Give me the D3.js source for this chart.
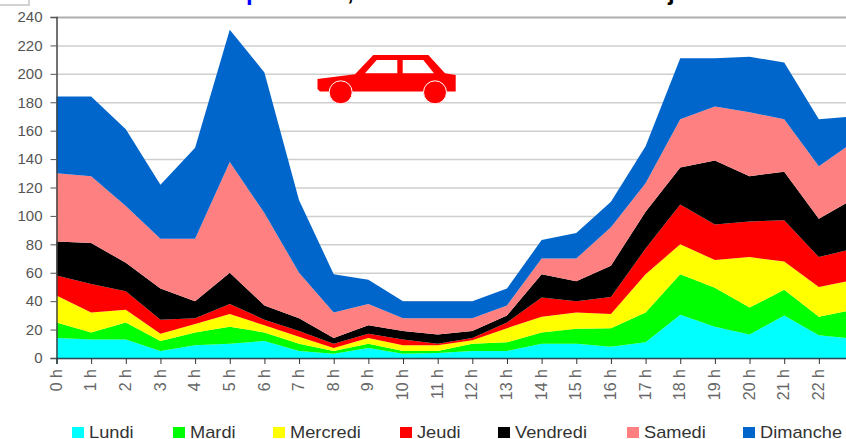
<!DOCTYPE html>
<html>
<head>
<meta charset="utf-8">
<script src="https://cdn.jsdelivr.net/npm/d3@7"></script>
<style>
  html, body { margin:0; padding:0; background:#fff; overflow:hidden; }
  text { font-family:"Liberation Sans", Arial, sans-serif; }
</style>
</head>
<body>
<div id="vis-container"></div>
<script>
//data
let hours = ["0 h","1 h","2 h","3 h","4 h","5 h","6 h","7 h","8 h","9 h","10 h","11 h","12 h","13 h","14 h","15 h","16 h","17 h","18 h","19 h","20 h","21 h","22 h","23 h"];
let yTicks = [0,20,40,60,80,100,120,140,160,180,200,220,240];
let days = ["Lundi","Mardi","Mercredi","Jeudi","Vendredi","Samedi","Dimanche"];
let dayColors = ["#00ffff","#00ff00","#ffff00","#ff0000","#000000","#ff8080","#0066cc"];

let lundi    = [14,13,13,5,9,10,12,5,3,7,3,3.5,5,5,10,10,8,11,30.5,22,16.5,30,16,13.5];
let mardi    = [11,5,12,7,9,12,6,5,2,3,2,1.5,5,6,8,10.5,13,21,28.5,27.5,19,18,13,20.5];
let mercredi = [19,14,9,5,6,9,5,5,2,4,4,4,2.5,10,11,11.5,10,27,21,19.5,35.5,20,21,21];
let jeudi    = [14,20,13,10,4,7,4,4,3,3,4,1,1.5,4,13.5,8,12,18,28,25,25,29,21,22];
let vendredi = [24,29,20,22,12,22,10,9,4,6,6,6.5,5,5,16.5,14,22,26,26,45,32,34,27,35];
let samedi   = [48,47,40,35,44,78,65,32,18,15,9,11.5,9,7,11,16,27,20,34,38,45,37,37,40];
let dimanche = [54,56,54,38,64,93,99,51,27,17,12,12,12,12,13,18,18,26,43,34,39,40,33,18];
let dayValues = [lundi,mardi,mercredi,jeudi,vendredi,samedi,dimanche];

//legend positions, the gaps are not regular in the original
let legendX = [72,173,273,400,498,627,743];

let W = 846, H = 439;
let margin = {top:17, left:56.5, bottom:81};
let plotW = 853.5 - margin.left;
let plotH = H - margin.top - margin.bottom;

let svg = d3.select("#vis-container")
  .append("svg")
  .attr("width", W)
  .attr("height", H)
  .style("display", "block");

//table for the stack
let table = hours.map((h,i)=>{
  let row = {hour:h};
  days.forEach((d,j)=>{row[d] = dayValues[j][i];});
  return row;
});
let series = d3.stack().keys(days)(table);

//scales
let x = d3.scalePoint().domain(hours).range([0,plotW]);
let y = d3.scaleLinear().domain([0,240]).range([plotH,0]);

let g = svg.append("g")
  .attr("transform", `translate(${margin.left}, ${margin.top})`);

//title of the page is cut off, only the descenders are left
let titleBits = [
  {t:"p", x:246, fill:"#0000ff", weight:"bold"},
  {t:",", x:347, fill:"#000", weight:"bold"},
  {t:"j", x:668, fill:"#000", weight:"bold"}
];
svg.selectAll(".title-bit")
  .data(titleBits)
  .enter().append("text")
  .attr("class", "title-bit")
  .attr("x", d=>d.x)
  .attr("y", 0)
  .attr("font-size", "24px")
  .attr("font-weight", d=>d.weight)
  .attr("fill", d=>d.fill)
  .text(d=>d.t);

//box left over in the top corner
svg.append("rect")
  .attr("x", -2).attr("y", -2)
  .attr("width", 31).attr("height", 7)
  .attr("fill", "#fff")
  .attr("stroke", "#c4c4c4")
  .attr("stroke-width", 1.5);

//grid
let grid = g.append("g")
  .call(d3.axisLeft(y).tickValues(yTicks).tickSize(-plotW).tickFormat(""));
grid.select(".domain").remove();
grid.selectAll("line")
  .attr("stroke", d=> d === 240 ? "#aeaeae" : "#cfcfcf")
  .attr("stroke-width", d=> d === 240 ? 2 : 1.5);

//areas
let area = d3.area()
  .x(d=>x(d.data.hour))
  .y0(d=>y(d[0]))
  .y1(d=>y(d[1]));

g.selectAll(".layer")
  .data(series)
  .enter().append("path")
  .attr("class", "layer")
  .attr("fill", (d,i)=>dayColors[i])
  .attr("d", area);

//y axis
let yAxis = g.append("g")
  .call(d3.axisLeft(y).tickValues(yTicks).tickSize(6).tickPadding(8));
yAxis.select(".domain").attr("stroke", "#444").attr("stroke-width", 1.5);
yAxis.selectAll("line").attr("stroke", "#555");
yAxis.selectAll("text")
  .attr("font-size", "15px")
  .attr("fill", "#555")
  .attr("font-family", "Liberation Sans");

//x axis
let xAxis = g.append("g")
  .attr("transform", `translate(0,${plotH})`)
  .call(d3.axisBottom(x).tickSize(6));
xAxis.select(".domain").attr("stroke", "#2c4a55").attr("stroke-width", 1.5);
xAxis.selectAll("line").attr("stroke", "#333");
xAxis.selectAll("text")
  .attr("font-size", "16px")
  .attr("fill", "#666")
  .attr("font-family", "Liberation Sans")
  .attr("text-anchor", "end")
  .attr("transform", "rotate(-90)")
  .attr("x", -11)
  .attr("y", -1)
  .attr("dy", "0.35em");

//legend
let legend = svg.selectAll(".legend-item")
  .data(days)
  .enter().append("g")
  .attr("class", "legend-item")
  .attr("transform", (d,i)=>`translate(${legendX[i]},427)`);

legend.append("rect")
  .attr("width", 12)
  .attr("height", 11)
  .attr("fill", (d,i)=>dayColors[i]);

legend.append("text")
  .attr("transform", "translate(17,11) scale(1.14,1)")
  .attr("font-size", "16px")
  .attr("fill", "#333")
  .text(d=>d);

//red car
let car = svg.append("g");
car.append("path")
  .attr("fill", "#ff0000")
  .attr("fill-rule", "evenodd")
  .attr("d", "M317.5,79 L355,74.3 L373.3,55 L428.3,55 L445,73.3 L455.7,75 L455.7,91.5 L320,91.5 L317.5,89 Z"
    + " M365,73.3 L376.7,60 L397.3,60 L397.3,73.3 Z"
    + " M402.7,60 L423.3,60 L434,73.3 L402.7,73.3 Z");
car.selectAll("circle")
  .data([340.7,435])
  .enter().append("circle")
  .attr("cx", d=>d)
  .attr("cy", 92.3)
  .attr("r", 11.5)
  .attr("fill", "#ff0000")
  .attr("stroke", "#fff")
  .attr("stroke-width", 1);
</script>
</body>
</html>
